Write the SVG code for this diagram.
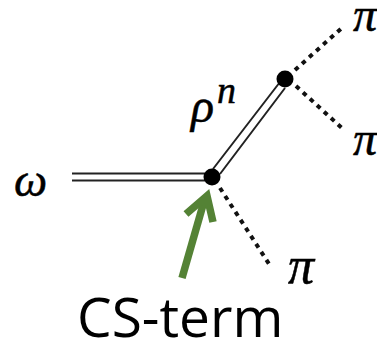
<svg xmlns="http://www.w3.org/2000/svg" width="377" height="341" viewBox="0 0 377 341">
<style>
.dbl{stroke:#222;stroke-width:2;fill:none}
.dot{stroke:#111;stroke-width:4;stroke-dasharray:4.5 5;fill:none}
.v{fill:#000}
.g{font-family:"Liberation Serif","DejaVu Serif",serif;font-style:italic;fill:#000;stroke:#000;stroke-width:.5}
</style>
<rect width="377" height="341" fill="#fff"/>
<g id="connectors">
<path class="dbl" d="M72 173.500H205M72 180.500H205"/>
<path class="dbl" d="M213 169L280 82M220 174L285 88"/>
<path class="dot" d="M220 188L271 267"/>
<path class="dot" d="M295 70L344 26"/>
<path class="dot" d="M296 86L344 130"/>
<g id="cs-arrow" fill="none" stroke="#548235" stroke-width="7.500">
<path d="M182 278L205 198"/>
<path d="M186 214L207 196L213 222" stroke-linejoin="miter"/>
</g>
</g>
<g id="node-v1"><circle class="v" cx="212" cy="177" r="8.500"/></g>
<g id="node-v2"><circle class="v" cx="285" cy="79" r="8.500"/></g>
<g id="label-omega"><text class="g" x="14" y="196" font-size="47">ω</text></g>
<g id="label-rho"><text class="g" x="191" y="122" font-size="48">ρ</text><text class="g" x="217" y="103" font-size="38">n</text></g>
<g id="label-pi1"><text class="g" x="353" y="31" font-size="48">π</text></g>
<g id="label-pi2"><text class="g" x="353" y="155" font-size="48">π</text></g>
<g id="label-pi3"><text class="g" x="288" y="283" font-size="52">π</text></g>
<g id="label-cs"><text x="77" y="337" font-family="'Open Sans','Noto Sans',sans-serif" font-size="55" fill="#000">CS-term</text></g>
</svg>
